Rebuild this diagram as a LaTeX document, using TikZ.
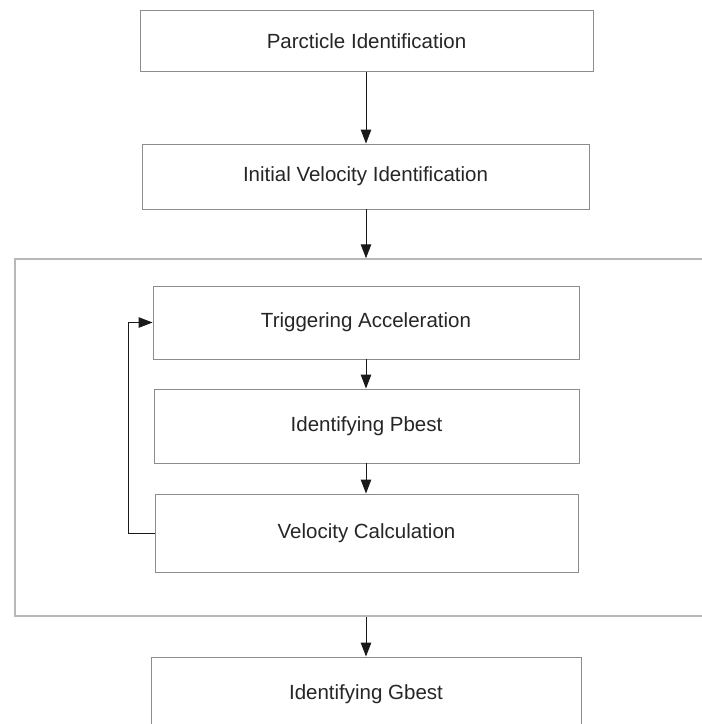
\documentclass[tikz,border=0pt]{standalone}
\usepackage{fontspec}
\setmainfont{Liberation Sans}
\usetikzlibrary{arrows.meta}
\definecolor{boxline}{HTML}{8C8C8C}
\definecolor{frameline}{HTML}{B8B8B8}
\definecolor{labeltext}{HTML}{262626}
\definecolor{arrowline}{HTML}{1A1A1A}
\begin{document}
\begin{tikzpicture}[x=1pt,y=-1pt,
  stage/.style={draw=boxline, line width=0.9pt, fill=white, inner sep=0pt,
    text=labeltext, font=\fontsize{20.5}{24}\selectfont},
  frame/.style={draw=frameline, line width=1.5pt, inner sep=0pt},
  flow/.style={draw=arrowline, line width=1pt, -{Triangle[length=14pt,width=10.5pt]}}]
\useasboundingbox (0,0) rectangle (702,724);
\clip (0,0) rectangle (702,724);
\fill[white] (0,0) rectangle (702,724);

% enclosing frame for the iteration loop (runs off the right edge)
\node[frame, minimum width=725pt, minimum height=357pt] (loop) at (377.5,437.5) {};

% main stages
\node[stage, minimum width=453pt, minimum height=61pt] (pid) at (366.5,41) {Parcticle Identification};
\node[stage, minimum width=447pt, minimum height=65pt] (ivel) at (365.5,176.5) {Initial Velocity Identification};
\node[stage, minimum width=426pt, minimum height=73pt] (trig) at (366,322.5) {Triggering Acceleration};
\node[stage, minimum width=425pt, minimum height=74pt] (pbest) at (366.5,426) {Identifying Pbest};
\node[stage, minimum width=423pt, minimum height=78pt] (vcalc) at (366.5,533) {Velocity Calculation};
\node[stage, minimum width=430pt, minimum height=75pt] (gbest) at (366,694.5) {Identifying Gbest};

% connectors
\draw[flow] (trig.north |- pid.south) -- (trig.north |- ivel.north);
\draw[flow] (trig.north |- ivel.south) -- (trig.north |- loop.north);
\draw[flow] (trig.south) -- (trig.south |- pbest.north);
\draw[flow] (trig.south |- pbest.south) -- (trig.south |- vcalc.north);
\draw[flow] (vcalc.west) -- ++(-26,0) |- (trig.west);
\draw[flow] (trig.south |- loop.south) -- (trig.south |- gbest.north);
\end{tikzpicture}
\end{document}
